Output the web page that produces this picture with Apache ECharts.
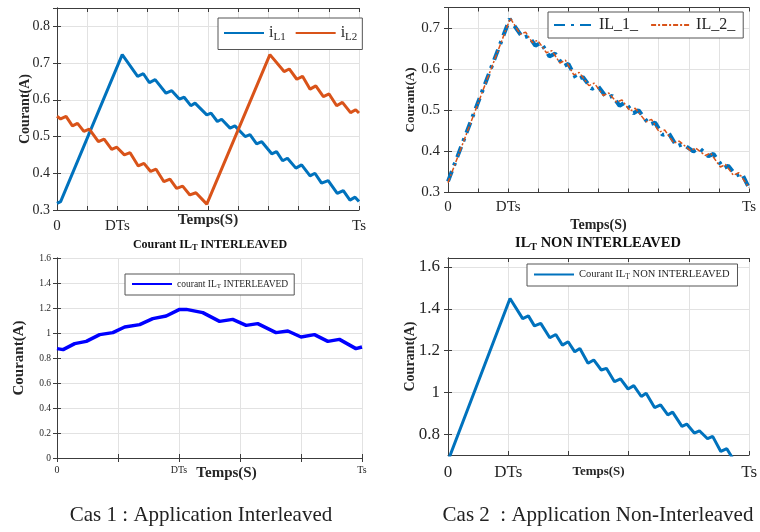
<!DOCTYPE html>
<html>
<head>
<meta charset="utf-8">
<script src="https://cdn.jsdelivr.net/npm/echarts@6/dist/echarts.min.js"></script>
<style>
  html, body { margin: 0; padding: 0; background: #fff; }
  #chart { width: 760px; height: 532px; }
</style>
</head>
<body>
<div id="chart"></div>
<script>
// temps normalisé : 0 -> Ts

// Cas 1 : courants de phase
const iL1T = [0, 0.012, 0.216, 0.267, 0.286, 0.306, 0.325, 0.361, 0.380, 0.405, 0.421, 0.443, 0.457, 0.496, 0.510, 0.531, 0.545, 0.573, 0.589, 0.623, 0.639, 0.661, 0.678, 0.711, 0.727, 0.747, 0.763, 0.791, 0.810, 0.838, 0.854, 0.876, 0.898, 0.928, 0.948, 0.970, 0.987, 1];
const iL1 = [0.318, 0.323, 0.723, 0.664, 0.671, 0.647, 0.655, 0.618, 0.625, 0.602, 0.607, 0.584, 0.591, 0.559, 0.564, 0.541, 0.547, 0.523, 0.529, 0.500, 0.505, 0.480, 0.486, 0.453, 0.459, 0.434, 0.441, 0.414, 0.423, 0.393, 0.400, 0.373, 0.380, 0.345, 0.353, 0.327, 0.335, 0.323];
const iL2T = [0, 0.012, 0.030, 0.051, 0.068, 0.089, 0.107, 0.137, 0.156, 0.181, 0.198, 0.223, 0.242, 0.269, 0.288, 0.310, 0.328, 0.354, 0.374, 0.396, 0.416, 0.440, 0.460, 0.496, 0.705, 0.752, 0.769, 0.794, 0.813, 0.838, 0.857, 0.882, 0.901, 0.926, 0.945, 0.972, 0.989, 1];
const iL2 = [0.555, 0.548, 0.555, 0.529, 0.536, 0.514, 0.520, 0.486, 0.493, 0.465, 0.471, 0.450, 0.456, 0.420, 0.427, 0.405, 0.411, 0.377, 0.384, 0.359, 0.365, 0.341, 0.347, 0.316, 0.723, 0.677, 0.684, 0.656, 0.664, 0.629, 0.638, 0.609, 0.616, 0.584, 0.593, 0.565, 0.573, 0.564];

// Cas 2 : courants de phase (non entrelacés)
const il1T = [0, 0.205, 0.249, 0.268, 0.290, 0.309, 0.337, 0.356, 0.384, 0.400, 0.428, 0.448, 0.478, 0.497, 0.528, 0.546, 0.570, 0.588, 0.616, 0.633, 0.669, 0.688, 0.713, 0.732, 0.760, 0.780, 0.815, 0.835, 0.865, 0.882, 0.915, 0.931, 0.957, 0.976, 1];
const il1 = [0.327, 0.722, 0.676, 0.681, 0.657, 0.664, 0.631, 0.638, 0.607, 0.613, 0.574, 0.581, 0.552, 0.560, 0.530, 0.535, 0.511, 0.519, 0.493, 0.500, 0.465, 0.470, 0.440, 0.446, 0.412, 0.418, 0.400, 0.408, 0.388, 0.394, 0.359, 0.365, 0.341, 0.347, 0.311];
const il2T = [0, 0.207, 0.240, 0.258, 0.280, 0.298, 0.327, 0.345, 0.372, 0.390, 0.418, 0.436, 0.468, 0.486, 0.516, 0.534, 0.560, 0.578, 0.605, 0.622, 0.658, 0.676, 0.702, 0.720, 0.750, 0.768, 0.805, 0.823, 0.855, 0.872, 0.905, 0.922, 0.948, 0.966, 1];
const il2 = [0.324, 0.724, 0.685, 0.690, 0.665, 0.670, 0.640, 0.645, 0.615, 0.622, 0.586, 0.592, 0.560, 0.566, 0.536, 0.542, 0.520, 0.525, 0.498, 0.505, 0.472, 0.478, 0.447, 0.452, 0.420, 0.425, 0.402, 0.408, 0.390, 0.396, 0.362, 0.368, 0.342, 0.348, 0.312];

// courant total ILT
const iltIntT = [0, 0.020, 0.058, 0.096, 0.140, 0.183, 0.222, 0.271, 0.314, 0.358, 0.402, 0.424, 0.478, 0.533, 0.576, 0.620, 0.658, 0.718, 0.757, 0.800, 0.844, 0.888, 0.926, 0.980, 1];
const iltInt = [0.875, 0.867, 0.915, 0.933, 0.987, 1.003, 1.048, 1.067, 1.115, 1.136, 1.189, 1.189, 1.163, 1.093, 1.109, 1.061, 1.075, 1.003, 1.016, 0.968, 0.987, 0.933, 0.949, 0.875, 0.888];
const iltNonT = [0, 0.206, 0.248, 0.267, 0.287, 0.308, 0.338, 0.358, 0.380, 0.399, 0.421, 0.438, 0.465, 0.484, 0.509, 0.526, 0.553, 0.573, 0.598, 0.617, 0.642, 0.658, 0.686, 0.706, 0.730, 0.746, 0.777, 0.793, 0.818, 0.835, 0.862, 0.879, 0.906, 0.926, 0.945];
const iltNon = [0.672, 1.449, 1.353, 1.366, 1.318, 1.330, 1.261, 1.277, 1.226, 1.242, 1.194, 1.210, 1.139, 1.155, 1.107, 1.115, 1.051, 1.064, 1.016, 1.032, 0.980, 0.996, 0.927, 0.940, 0.892, 0.905, 0.837, 0.848, 0.805, 0.816, 0.778, 0.789, 0.717, 0.730, 0.685];

// graduations
const xTickPos1 = [0, 0.2, 1];
const xTickPos3 = [0, 0.4, 1];
const xTickText = ['0', 'DTs', 'Ts'];
const yTicks4 = [0.8, 1, 1.2, 1.4, 1.6];

const SERIF = '"Liberation Serif", "DejaVu Serif", serif';
const AXIS = '#3c3c3c';
const GRIDLINE = '#e2e2e2';
const TXT = '#262626';

const pair = (t, v) => t.map((x, i) => [x, v[i]]);
const xLabel = (pos) => (v) => {
  const i = pos.findIndex(p => Math.abs(p - v) < 1e-6);
  return i < 0 ? '' : xTickText[i];
};

function xAxes(gi, interval, pos, o) {
  return [{
    type: 'value', gridIndex: gi, min: 0, max: 1, interval,
    axisLine: { show: true, lineStyle: { color: AXIS } },
    axisTick: { show: true, inside: true, length: 4, lineStyle: { color: AXIS } },
    splitLine: { show: true, lineStyle: { color: GRIDLINE } },
    axisLabel: { margin: o.margin, fontSize: o.size, color: TXT, fontFamily: SERIF, formatter: xLabel(pos) },
    name: 'Temps(S)', nameLocation: 'middle', nameGap: o.nameGap, nameMoveOverlap: false,
    nameTextStyle: { fontWeight: 'bold', fontSize: o.nameSize, fontFamily: SERIF, color: TXT, padding: o.namePad || 0 }
  }, {
    type: 'value', gridIndex: gi, position: 'top', min: 0, max: 1, interval,
    axisLine: { show: true, lineStyle: { color: AXIS } },
    axisTick: { show: true, inside: true, length: 4, lineStyle: { color: AXIS } },
    axisLabel: { show: false }, splitLine: { show: false }
  }];
}

function yAxes(gi, o) {
  const scale = o.custom
    ? { min: o.min, max: o.max }
    : { min: o.min, max: o.max, interval: o.interval };
  const tick = { show: true, inside: true, length: 4, lineStyle: { color: AXIS } };
  if (o.custom) tick.customValues = o.custom;
  const lab = { margin: o.margin, fontSize: o.size, color: TXT, fontFamily: SERIF, showMaxLabel: o.showMax !== false };
  if (o.custom) lab.customValues = o.custom;
  return [Object.assign({
    type: 'value', gridIndex: gi,
    axisLine: { show: true, lineStyle: { color: AXIS } },
    axisTick: tick,
    splitLine: { show: true, lineStyle: { color: GRIDLINE } },
    axisLabel: lab,
    name: 'Courant(A)', nameLocation: 'middle', nameGap: o.nameGap, nameMoveOverlap: false,
    nameTextStyle: { fontWeight: 'bold', fontSize: o.nameSize, fontFamily: SERIF, color: TXT }
  }, scale), Object.assign({
    type: 'value', gridIndex: gi, position: 'right',
    axisLine: { show: true, lineStyle: { color: AXIS } },
    axisTick: Object.assign({}, tick),
    axisLabel: { show: false }, splitLine: { show: false }
  }, scale)];
}

const legendText = {
  iL1: '{m|i}{s|L1}',
  iL2: '{m|i}{s|L2}',
  IL_1_: 'IL_1_',
  IL_2_: 'IL_2_',
  iltInt: '{m|courant IL}{s|T}{m| INTERLEAVED}',
  iltNon: '{m|Courant IL}{s|T}{m| NON INTERLEAVED}'
};

function legend(names, o) {
  return {
    data: names, left: o.left, top: o.top, orient: 'horizontal',
    padding: o.padding, itemGap: o.gap, itemWidth: 40, itemHeight: 12,
    borderColor: '#555', borderWidth: 1, backgroundColor: '#fff',
    selectedMode: false,
    itemStyle: { opacity: 0 },
    formatter: (n) => legendText[n],
    textStyle: {
      fontFamily: SERIF, fontSize: o.size, color: TXT,
      rich: {
        m: { fontFamily: SERIF, fontSize: o.size, color: TXT },
        s: { fontFamily: SERIF, fontSize: o.sub, color: TXT, padding: [o.subDrop, 0, 0, 0] }
      }
    }
  };
}

function line(name, xi, yi, data, color, width, type) {
  return {
    name, type: 'line', xAxisIndex: xi, yAxisIndex: yi, data,
    symbol: 'none', showSymbol: false, clip: true,
    lineStyle: { color, width, type: type || 'solid' },
    itemStyle: { color }
  };
}

const chart = echarts.init(document.getElementById('chart'));
chart.setOption({
  animation: false,
  backgroundColor: '#fff',
  grid: [
    { left: 57, top: 8, width: 302, height: 202 },
    { left: 448, top: 7.5, width: 301, height: 185 },
    { left: 57, top: 258, width: 305, height: 200 },
    { left: 448, top: 258, width: 302, height: 197 }
  ],
  xAxis: [
    ...xAxes(0, 0.1, xTickPos1, { margin: 9, size: 15, nameGap: 3, nameSize: 15 }),
    ...xAxes(1, 0.1, xTickPos1, { margin: 7, size: 15, nameGap: 26, nameSize: 14 }),
    ...xAxes(2, 0.2, xTickPos3, { margin: 7, size: 10, nameGap: 8, nameSize: 15, namePad: [0, 0, 0, 34] }),
    ...xAxes(3, 0.2, xTickPos1, { margin: 9, size: 17, nameGap: 10, nameSize: 13 })
  ],
  yAxis: [
    ...yAxes(0, { min: 0.3, max: 0.85, interval: 0.1, margin: 7, size: 14, nameGap: 25, nameSize: 14, showMax: false }),
    ...yAxes(1, { min: 0.3, max: 0.75, interval: 0.1, margin: 8, size: 15, nameGap: 31, nameSize: 13, showMax: false }),
    ...yAxes(2, { min: 0, max: 1.6, interval: 0.2, margin: 6, size: 9.5, nameGap: 30, nameSize: 15 }),
    ...yAxes(3, { min: 0.7, max: 1.643, custom: yTicks4, margin: 8, size: 17, nameGap: 31, nameSize: 14 })
  ],
  legend: [
    legend(['iL1', 'iL2'], { left: 218, top: 18, padding: [7, 5, 7, 5], gap: 9, size: 16, sub: 11, subDrop: 8 }),
    legend(['IL_1_', 'IL_2_'], { left: 548, top: 12, padding: [5, 8, 5, 5], gap: 12, size: 16, sub: 11, subDrop: 8 }),
    legend(['iltInt'], { left: 125, top: 274, padding: [5, 6, 5, 6], gap: 5, size: 9.5, sub: 7, subDrop: 5 }),
    legend(['iltNon'], { left: 527, top: 264, padding: [5, 8, 5, 6], gap: 5, size: 10.5, sub: 7.5, subDrop: 5 })
  ],
  series: [
    line('iL1', 0, 0, pair(iL1T, iL1), '#0072BD', 3),
    line('iL2', 0, 0, pair(iL2T, iL2), '#D95319', 3),
    line('IL_1_', 2, 2, pair(il1T, il1), '#0072BD', 4, [11, 6, 3, 6]),
    line('IL_2_', 2, 2, pair(il2T, il2), '#D95319', 1.5, [5, 2, 2, 2]),
    line('iltInt', 4, 4, pair(iltIntT, iltInt), '#0000FF', 3.5),
    line('iltNon', 6, 6, pair(iltNonT, iltNon), '#0072BD', 3)
  ],
  graphic: [
    {
      type: 'text', x: 210, y: 245,
      style: {
        text: '{b|Courant IL}{s|T}{b| INTERLEAVED}', textAlign: 'center', textVerticalAlign: 'middle',
        rich: {
          b: { fontFamily: SERIF, fontWeight: 'bold', fontSize: 12, fill: '#111' },
          s: { fontFamily: SERIF, fontWeight: 'bold', fontSize: 8.5, fill: '#111', padding: [6, 0, 0, 0] }
        }
      }
    },
    {
      type: 'text', x: 598, y: 243,
      style: {
        text: '{b|IL}{s|T}{b| NON INTERLEAVED}', textAlign: 'center', textVerticalAlign: 'middle',
        rich: {
          b: { fontFamily: SERIF, fontWeight: 'bold', fontSize: 14.5, fill: '#111' },
          s: { fontFamily: SERIF, fontWeight: 'bold', fontSize: 10, fill: '#111', padding: [8, 0, 0, 0] }
        }
      }
    },
    {
      type: 'text', x: 201, y: 515,
      style: { text: 'Cas 1 : Application Interleaved', textAlign: 'center', textVerticalAlign: 'middle',
        font: '21px "Liberation Serif", serif', fill: '#222' }
    },
    {
      type: 'text', x: 598, y: 515,
      style: { text: 'Cas 2  : Application Non-Interleaved', textAlign: 'center', textVerticalAlign: 'middle',
        font: '21px "Liberation Serif", serif', fill: '#222' }
    }
  ]
});
window.addEventListener('resize', () => chart.resize());
</script>
</body>
</html>
